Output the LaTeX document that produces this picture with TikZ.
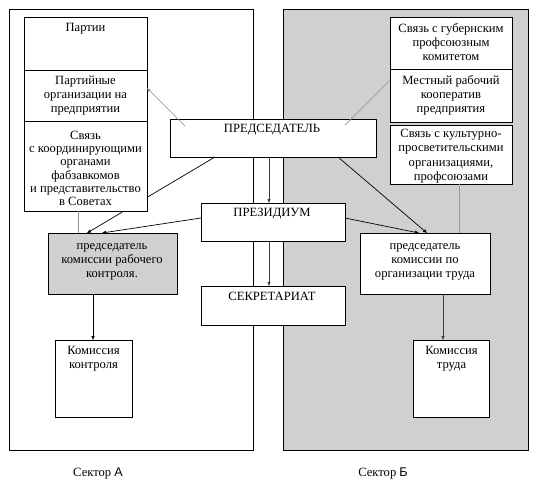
\documentclass[tikz,border=0pt]{standalone}
\usepackage{fontspec}
\setmainfont{Liberation Serif}
\newfontfamily\arialf{Liberation Sans}
\usetikzlibrary{arrows.meta,calc}
\definecolor{secgray}{RGB}{208,208,208}
\definecolor{lightln}{RGB}{150,150,150}
\definecolor{darkln}{RGB}{60,60,60}
\begin{document}
\begin{tikzpicture}[x=1pt,y=-1pt,
  box/.style={draw=black,line width=0.8pt,fill=white,inner sep=0pt,outer sep=0pt,anchor=north west},
  graybox/.style={box,fill=secgray},
  txt/.style={anchor=north,inner sep=0pt,align=center,font=\fontsize{12.6}{14}\selectfont},
  arr/.style={-{Triangle[length=4pt,width=3pt]},line width=0.7pt},
  blk/.style={arr,draw=black},
  drk/.style={arr,draw=darkln},
  lgt/.style={line width=0.7pt,draw=lightln},
  lbl/.style={anchor=base,inner sep=0pt,font=\fontsize{12.6}{14}\selectfont}]
\useasboundingbox (0,0) rectangle (542,483);
\fill[white] (0,0) rectangle (542,483);
% sectors
\node[box,minimum width=244pt,minimum height=441pt] (secA) at (9,9) {};
\node[graybox,minimum width=245pt,minimum height=441pt] (secB) at (283,9) {};
% lower boxes
\node[graybox,minimum width=129pt,minimum height=61pt] (predA) at (48,233) {};
\node[box,minimum width=130pt,minimum height=61pt] (predB) at (360,233) {};
\node[box,minimum width=77pt,minimum height=77pt] (komA) at (55,340) {};
\node[box,minimum width=76pt,minimum height=77pt] (komB) at (413,340) {};
% chair and its arrow behind the left stack
\node[box,minimum width=206pt,minimum height=38pt] (chair) at (170,119) {};
\draw[blk] ($(chair.south west)+(45,0)$) -- ($(predA.north west)+(39,0)$);
% left stack
\node[box,minimum width=123pt,minimum height=53pt] (party1) at (24,17) {};
\node[box,minimum width=123pt,minimum height=51pt] (party2) at (24,70) {};
\node[box,minimum width=123pt,minimum height=90pt] (link) at (24,121) {};
% right stack
\node[box,minimum width=122pt,minimum height=52pt] (gub) at (390,17) {};
\node[box,minimum width=122pt,minimum height=53pt] (coop) at (390,69) {};
\node[box,minimum width=122pt,minimum height=59pt] (cult) at (390,125) {};
% centre column
\node[box,minimum width=144pt,minimum height=38pt] (pres) at (201,203) {};
\node[box,minimum width=144pt,minimum height=39pt] (secr) at (201,286) {};
% texts
\node[txt] (party1t) at (85.5,21) {\rule{0pt}{10pt}Партии};
\node[txt] (party2t) at (85.5,74) {\rule{0pt}{10pt}Партийные\\организации на\\предприятии};
\node[txt,font=\fontsize{12.6}{13.3}\selectfont] (linkt) at (85.5,129) {\rule{0pt}{10pt}Связь\\с координирующими\\органами\\фабзавкомов\\и представительство\\в Советах};
\node[txt] (gubt) at (451,22) {\rule{0pt}{10pt}Связь с губернским\\профсоюзным\\комитетом};
\node[txt] (coopt) at (451,74) {\rule{0pt}{10pt}Местный рабочий\\кооператив\\предприятия};
\node[txt,font=\fontsize{12.6}{14.5}\selectfont] (cultt) at (451,127) {\rule{0pt}{10pt}Связь с культурно-\\просветительскими\\организациями,\\профсоюзами};
\node[txt] (chairt) at (272,122) {\rule{0pt}{10pt}ПРЕДСЕДАТЕЛЬ};
\node[txt] (prest) at (272,206) {\rule{0pt}{10pt}ПРЕЗИДИУМ};
\node[txt] (secrt) at (272,290) {\rule{0pt}{10pt}СЕКРЕТАРИАТ};
\node[txt] (predAt) at (112,239) {\rule{0pt}{10pt}председатель\\комиссии рабочего\\контроля.};
\node[txt] (predBt) at (425,239) {\rule{0pt}{10pt}председатель\\комиссии по\\организации труда};
\node[txt] (komAt) at (93.5,344) {\rule{0pt}{10pt}Комиссия\\контроля};
\node[txt] (komBt) at (451.5,344) {\rule{0pt}{10pt}Комиссия\\труда};
\node[lbl] (labA) at (98,476) {Сектор {\arialf А}};
\node[lbl] (labB) at (383,476) {Сектор {\arialf Б}};
% connectors over boxes
\draw[lgt,-{Triangle[length=4pt,width=3pt]},fill=lightln] ($(chair.north west)+(15,7)$) -- ($(party2.north east)+(0,18)$);
\draw[lgt] ($(chair.north east)+(-31,6)$) -- ($(coop.north west)+(0,11)$);
\draw[lgt] ($(link.south west)+(54,0)$) -- ($(predA.north west)+(30,0)$);
\draw[lgt] ($(cult.south west)+(69,0)$) -- ($(predB.north west)+(99,0)$);
\draw[blk] ($(pres.north west)+(0,15)$) -- ($(predA.north west)+(54,0)$);
\draw[blk] ($(chair.south east)+(-38,0)$) -- ($(predB.north west)+(67,0)$);
\draw[blk] ($(pres.north east)+(0,15)$) -- ($(predB.north west)+(59,0)$);
\draw[drk] ($(chair.south west)+(99,0)$) -- ($(pres.north west)+(68,0)$);
\draw[drk] ($(pres.south west)+(68,0)$) -- ($(secr.north west)+(68,0)$);
\draw[blk] ($(predA.south west)+(45,0)$) -- ($(komA.north west)+(38,0)$);
\draw[drk] ($(predB.south west)+(83,0)$) -- ($(komB.north west)+(30,0)$);
\end{tikzpicture}
\end{document}
